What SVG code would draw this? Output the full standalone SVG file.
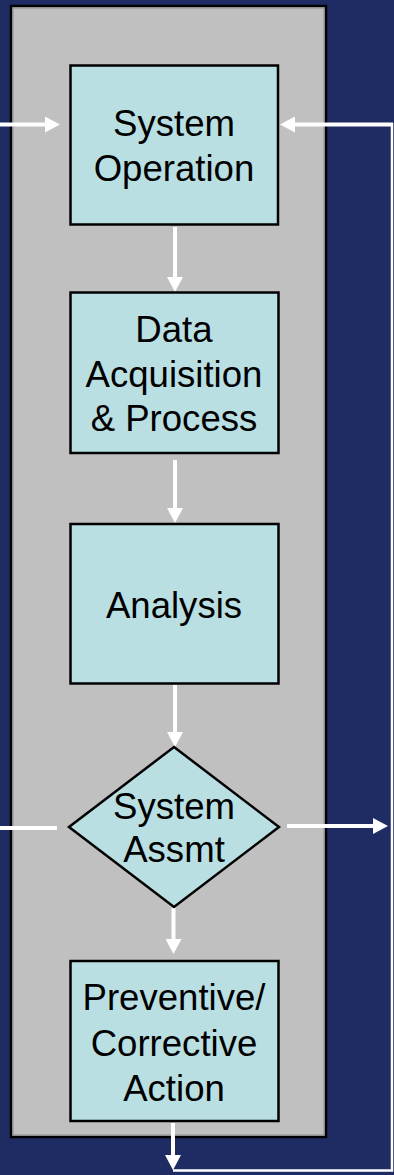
<svg xmlns="http://www.w3.org/2000/svg" width="394" height="1175" viewBox="0 0 394 1175">
  <style>
    .bg { fill: #1F2C64; }
    .panel { fill: #C0C0C0; stroke: #000; stroke-width: 2.5; }
    .panel-inner { fill: none; stroke: #8C8C8C; stroke-width: 1; }
    .node { fill: #B9DFE2; stroke: #000; stroke-width: 2.5; }
    .label { font-family: "Liberation Sans", Arial, sans-serif; font-size: 36.6px; fill: #000; text-anchor: middle; }
    .flow { stroke: #FFF; stroke-width: 4; fill: none; }
    .flow.arrow { marker-end: url(#head); }
    .loop { stroke: #FFF; stroke-width: 2.5; fill: none; }
  </style>
  <defs>
    <marker id="head" markerUnits="userSpaceOnUse" markerWidth="15" markerHeight="16" viewBox="0 0 15 16" refX="1" refY="8" orient="auto">
      <path d="M0,0 L15,8 L0,16 Z" fill="#FFF"/>
    </marker>
  </defs>

  <rect class="bg" x="0" y="0" width="394" height="1175"/>

  <!-- process frame -->
  <rect class="panel" x="11" y="6" width="315" height="1131"/>
  <rect class="panel-inner" x="13" y="8" width="311" height="1127"/>

  <!-- connectors -->
  <g id="connectors">
    <line class="flow arrow" x1="0" y1="124.5" x2="46" y2="124.5"/>
    <polyline class="loop" points="173,1170.5 392,1170.5 392,123"/>
    <line class="flow arrow" x1="393" y1="124.5" x2="294" y2="124.5"/>
    <line class="flow arrow" x1="175" y1="227" x2="175" y2="278"/>
    <line class="flow arrow" x1="175" y1="460" x2="175" y2="509"/>
    <line class="flow arrow" x1="175" y1="685" x2="175" y2="733"/>
    <line class="flow" x1="0" y1="828" x2="57" y2="828"/>
    <line class="flow arrow" x1="287" y1="826" x2="374" y2="826"/>
    <line class="flow arrow" x1="173.5" y1="908" x2="173.5" y2="940"/>
    <line class="flow arrow" x1="173" y1="1123" x2="173" y2="1156"/>
  </g>

  <g id="system-operation">
    <rect class="node" x="70.5" y="65.5" width="207.5" height="159"/>
    <text class="label" x="174" y="136">System</text>
    <text class="label" x="174" y="181">Operation</text>
  </g>

  <g id="data-acquisition">
    <rect class="node" x="70.5" y="292.5" width="208" height="160.5"/>
    <text class="label" x="174" y="342">Data</text>
    <text class="label" x="174" y="387">Acquisition</text>
    <text class="label" x="174" y="430.5">&amp; Process</text>
  </g>

  <g id="analysis">
    <rect class="node" x="70.5" y="524" width="208" height="159.5"/>
    <text class="label" x="174" y="618">Analysis</text>
  </g>

  <g id="system-assessment">
    <polygon class="node" points="174,747 279,827 174,907 69,827"/>
    <text class="label" x="174" y="819">System</text>
    <text class="label" x="174" y="862">Assmt</text>
  </g>

  <g id="corrective-action">
    <rect class="node" x="70.5" y="961" width="208" height="160"/>
    <text class="label" x="174" y="1010">Preventive/</text>
    <text class="label" x="174" y="1055.5">Corrective</text>
    <text class="label" x="174" y="1100.5">Action</text>
  </g>
</svg>
